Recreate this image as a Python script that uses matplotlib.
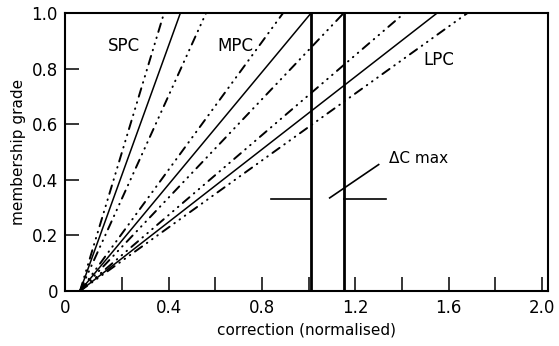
import matplotlib
matplotlib.use("Agg")
import matplotlib.pyplot as plt

# lines start on the x axis and run up to membership grade 1.0
x_start = 0.02
groups = ["SPC", "MPC", "LPC"]
# x where each line reaches grade 1.0: (lower bound, centre, upper bound)
x_top = {
    "SPC": [0.38, 0.45, 0.56],
    "MPC": [0.89, 1.01, 1.15],
    "LPC": [1.41, 1.55, 1.68],
}
label_pos = {"SPC": (0.14, 0.88), "MPC": (0.61, 0.88), "LPC": (1.49, 0.83)}

# delta C max construction
v_lines = [1.01, 1.15]
h_level = 0.331
h_left = [0.84, 1.01]
h_right = [1.15, 1.33]
pointer_x = [1.09, 1.30]
pointer_y = [0.335, 0.455]

xticks = [0.4, 0.8, 1.2, 1.6, 2.0]
yticks = [0, 0.2, 0.4, 0.6, 0.8, 1.0]

xmin, xmax = -0.045, 2.025

fig = plt.figure(figsize=(5.59, 3.46), dpi=100)
ax = fig.add_axes([0.116, 0.159, 0.864, 0.803])

# long dash followed by three dots
dashdotdot = (0, (4.5, 3, 0.3, 3, 0.3, 3, 0.3, 3))
for g in groups:
    lo, mid, hi = x_top[g]
    for xe in (lo, hi):
        ax.plot([x_start, xe], [0, 1], color="black", lw=1.4,
                linestyle=dashdotdot, dash_capstyle="round")
    ax.plot([x_start, mid], [0, 1], color="black", lw=1.1)
    ax.text(label_pos[g][0], label_pos[g][1], g, fontsize=12, ha="left", va="center")

for v in v_lines:
    ax.axvline(v, color="black", lw=2)
ax.plot(h_left, [h_level, h_level], color="black", lw=1.2)
ax.plot(h_right, [h_level, h_level], color="black", lw=1.2)
ax.plot(pointer_x, pointer_y, color="black", lw=1.2)
ax.text(1.345, 0.478, "ΔC max", fontsize=11, ha="left", va="center")

ax.set_xlim(xmin, xmax)
ax.set_ylim(0, 1)

# "0" sits at the left spine like in the original
ax.set_xticks([xmin] + xticks)
ax.set_xticklabels(["0"] + [f"{t:.1f}" for t in xticks], fontsize=12)
ax.set_xticks([0.2, 0.6, 1.0, 1.4, 1.8], minor=True)
ax.set_yticks(yticks)
ax.set_yticklabels(["0"] + [f"{t:.1f}" for t in yticks[1:]], fontsize=12)

ax.tick_params(axis="both", which="both", direction="in", length=10, width=1.1)
ax.tick_params(axis="x", pad=6)
ax.tick_params(axis="y", pad=5)
for s in ax.spines.values():
    s.set_linewidth(1.5)

ax.set_xlabel("correction (normalised)", fontsize=11, labelpad=4)
ax.set_ylabel("membership grade", fontsize=11, labelpad=4)

fig.savefig("out.png", dpi=100)
